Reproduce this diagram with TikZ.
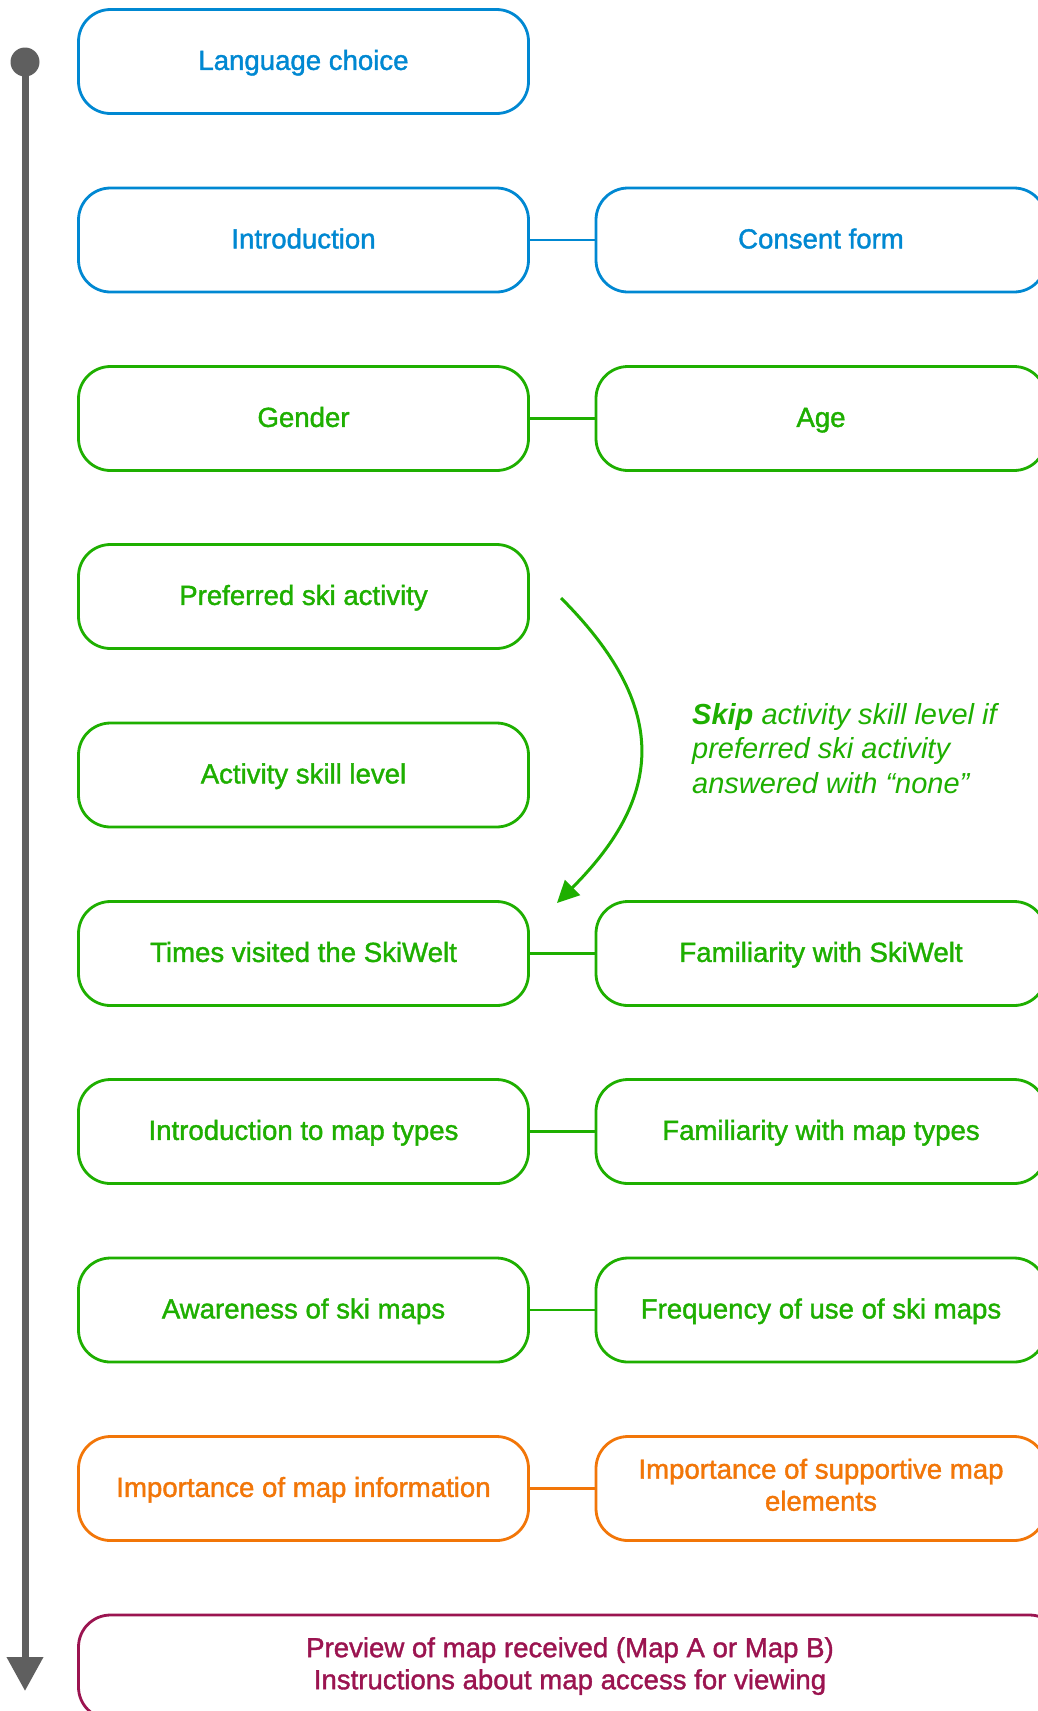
\documentclass[tikz,border=0pt]{standalone}
\usepackage{fontspec}
\setmainfont{Liberation Sans}
\newfontfamily\medfont{Liberation Sans}[FakeBold=1.4]
\usetikzlibrary{arrows.meta}
\definecolor{cblue}{RGB}{0,136,210}
\definecolor{cgreen}{RGB}{30,175,0}
\definecolor{corange}{RGB}{242,118,8}
\definecolor{cmaroon}{RGB}{155,20,80}
\definecolor{cgray}{RGB}{95,95,95}
\begin{document}
\begin{tikzpicture}[x=1pt,y=-1pt,
  box/.style={draw, line width=2.8pt, rounded corners=32pt, minimum width=450pt,
    minimum height=104pt, inner sep=0pt, align=center,
    font=\medfont\fontsize{27.6}{32}\selectfont,
    execute at begin node=\rule{0pt}{24.4pt},
    execute at end node=\rule[-7.6pt]{0pt}{7.6pt}},
  bluebox/.style={box, draw=cblue, text=cblue},
  greenbox/.style={box, draw=cgreen, text=cgreen},
  orangebox/.style={box, draw=corange, text=corange},
  maroonbox/.style={box, draw=cmaroon, text=cmaroon},
  link/.style={line width=2.5pt}]
\useasboundingbox (0,0) rectangle (1037,1711);
\fill[white] (0,0) rectangle (1037,1711);

% left column
\node[bluebox] (lang) at (303.5,61.5) {Language choice};
\node[bluebox] (intro) at (303.5,240) {Introduction};
\node[greenbox] (gender) at (303.5,418.5) {Gender};
\node[greenbox] (pref) at (303.5,596.5) {Preferred ski activity};
\node[greenbox] (skill) at (303.5,775) {Activity skill level};
\node[greenbox] (times) at (303.5,953.5) {Times visited the SkiWelt};
\node[greenbox] (intromap) at (303.5,1131.5) {Introduction to map types};
\node[greenbox] (aware) at (303.5,1310) {Awareness of ski maps};
\node[orangebox] (impinfo) at (303.5,1488.5) {Importance of map information};

% right column
\node[bluebox] (consent) at (821,240) {Consent form};
\node[greenbox] (age) at (821,418.5) {Age};
\node[greenbox] (famski) at (821,953.5) {Familiarity with SkiWelt};
\node[greenbox] (fammap) at (821,1131.5) {Familiarity with map types};
\node[greenbox] (freq) at (821,1310) {Frequency of use of ski maps};
\node[orangebox] (impsupp) at (821,1488.5) {Importance of supportive map\\elements};

% bottom
\node[maroonbox, minimum width=983pt] (preview) at (570,1667)
  {Preview of map received (Map A or Map B)\\Instructions about map access for viewing};

% connectors
\draw[link, cblue] (intro.east) -- (consent.west);
\draw[link, cgreen] (gender.east) -- (age.west);
\draw[link, cgreen] (times.east) -- (famski.west);
\draw[link, cgreen] (intromap.east) -- (fammap.west);
\draw[link, cgreen] (aware.east) -- (freq.west);
\draw[link, corange] (impinfo.east) -- (impsupp.west);

% skip arrow
\coordinate (cs) at (561,598);
\coordinate (ce) at (557,903);
\draw[cgreen, line width=3pt, -{Triangle[length=22pt,width=21pt]}]
  (cs) .. controls (669,706) and (665,795) .. (ce);
\node[anchor=north west, inner sep=0pt, align=left, text=cgreen,
  font=\fontsize{29}{34.5}\selectfont\itshape] (note) at (692,703)
  {\textbf{Skip} activity skill level if\\preferred ski activity\\answered with “none”};

% timeline
\node[circle, fill=cgray, minimum size=29pt, inner sep=0pt] (dot) at (25,62) {};
\coordinate (tend) at (25,1691);
\draw[cgray, line width=7pt, -{Triangle[length=34pt,width=35pt]}] (dot.center) -- (tend);
\end{tikzpicture}
\end{document}
